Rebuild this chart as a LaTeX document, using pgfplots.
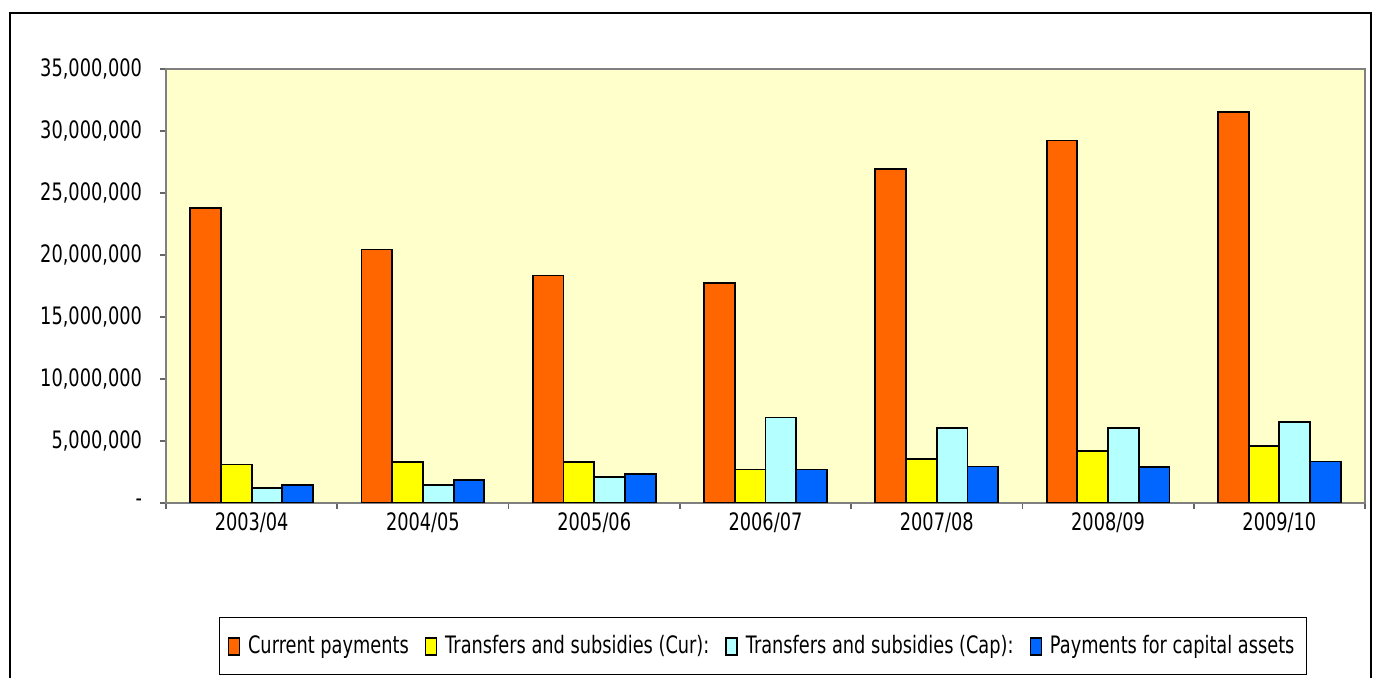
\documentclass[border=0pt]{standalone}
\usepackage{fontspec}
\setmainfont{DejaVu Sans}[FakeStretch=0.74]
\usepackage{pgfplots}
\pgfplotsset{compat=1.18}
\definecolor{curpay}{HTML}{FF6600}
\definecolor{trcur}{HTML}{FFFF00}
\definecolor{trcap}{HTML}{B4FFFF}
\definecolor{capass}{HTML}{0066FF}
\definecolor{plotbg}{HTML}{FFFFCC}
\begin{document}
\begin{tikzpicture}
\begin{scope}
\clip (0,0) rectangle (686.5pt,-339pt);
\draw[line width=1.1pt] (5pt,-6.5pt) rectangle (685.3pt,-360pt);
\end{scope}
\begin{axis}[
  at={(83pt,-251.5pt)}, anchor=south west,
  scale only axis, width=599.5pt, height=217pt,
  ybar=0pt, bar width=15.35pt,
  xmin=-0.5, xmax=6.5, ymin=0, ymax=35000000,
  axis background/.style={fill=plotbg},
  axis line style={black!50, line width=0.8pt},
  tick style={black!60, line width=0.8pt},
  tick align=outside,
  xtick={0,...,6},
  xticklabels={2003/04,2004/05,2005/06,2006/07,2007/08,2008/09,2009/10},
  major x tick style={draw=none},
  minor xtick={-0.5,0.5,...,6.5},
  minor tick length=3pt, major tick length=3pt,
  xtick pos=bottom, ytick pos=left,
  ytick={0,5000000,10000000,15000000,20000000,25000000,30000000,35000000},
  yticklabels={{-\hspace{5pt}},{5,000,000},{10,000,000},{15,000,000},{20,000,000},{25,000,000},{30,000,000},{35,000,000}},
  scaled y ticks=false,
  tick label style={font=\fontsize{12}{14}\selectfont},
  yticklabel style={xshift=-5.5pt},
  xticklabel style={yshift=1.5pt},
  every axis plot/.append style={draw=black, line width=0.9pt},
  legend image code/.code={\draw[#1, line width=0.7pt] (0pt,-4.5pt) rectangle (5.5pt,4pt);},
  legend style={at={(0.498,-0.3295)}, anchor=center, legend columns=4,
    draw=black, line width=0.6pt, fill=white,
    font=\fontsize{12}{14}\selectfont,
    inner xsep=4pt, inner ysep=7pt,
    /tikz/every odd column/.append style={column sep=2pt},
    /tikz/every even column/.append style={column sep=6pt}},
]
\addplot[fill=curpay] coordinates {(0,23760000) (1,20450000) (2,18340000) (3,17770000) (4,26940000) (5,29230000) (6,31520000)};
\addlegendentry{Current payments}
\addplot[fill=trcur] coordinates {(0,3100000) (1,3290000) (2,3300000) (3,2700000) (4,3560000) (5,4170000) (6,4580000)};
\addlegendentry{Transfers and subsidies (Cur):}
\addplot[fill=trcap] coordinates {(0,1240000) (1,1460000) (2,2100000) (3,6900000) (4,6040000) (5,6040000) (6,6500000)};
\addlegendentry{Transfers and subsidies (Cap):}
\addplot[fill=capass] coordinates {(0,1460000) (1,1860000) (2,2350000) (3,2700000) (4,2940000) (5,2910000) (6,3340000)};
\addlegendentry{Payments for capital assets}
\end{axis}
\pgfresetboundingbox
\useasboundingbox (0,0) rectangle (686.5pt,-339pt);
\end{tikzpicture}
\end{document}
